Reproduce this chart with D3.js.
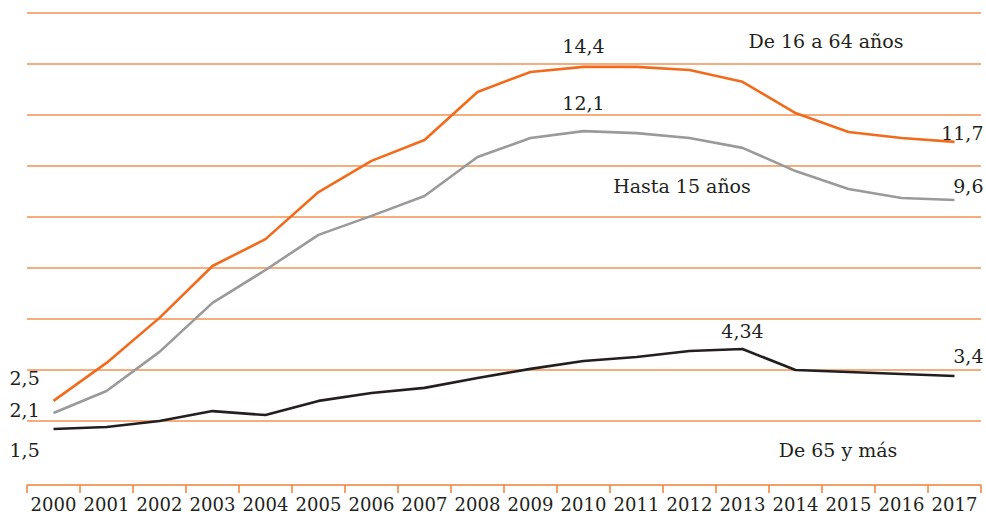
<!DOCTYPE html>
<html><head><meta charset="utf-8">
<script src="https://cdn.jsdelivr.net/npm/d3@7/dist/d3.min.js"></script>
<style>body{margin:0;background:#fff}svg{display:block}text{font-family:"DejaVu Serif",serif;fill:#231f20}</style>
</head><body><svg id="c" width="986" height="514"></svg>
<script>
const years = [2000,2001,2002,2003,2004,2005,2006,2007,2008,2009,2010,2011,2012,2013,2014,2015,2016,2017];
const de16a64 = [2.51,3.85,5.44,7.27,8.22,9.88,10.98,11.72,13.41,14.12,14.30,14.30,14.19,13.77,12.67,12.00,11.79,11.65];
const hasta15 = [2.08,2.86,4.24,5.97,7.13,8.37,9.04,9.74,11.12,11.79,12.03,11.96,11.79,11.44,10.62,9.99,9.67,9.60];
const de65 = [1.52,1.59,1.80,2.15,2.01,2.51,2.79,2.97,3.32,3.64,3.92,4.06,4.27,4.34,3.60,3.53,3.46,3.39];
const gridValues = [1.8,3.6,5.4,7.2,9.0,10.8,12.6,14.4,16.2];
const seriesNames = ["De 16 a 64 años","Hasta 15 años","De 65 y más"];
const valueLabels = [
  {t:"14,4", year:2010, v:14.30, dy:-14, a:"middle", dx:0},
  {t:"12,1", year:2010, v:12.03, dy:-21, a:"middle", dx:0},
  {t:"11,7", year:2017, v:11.65, dy:-2, a:"end", dx:29},
  {t:"9,6", year:2017, v:9.60, dy:-7, a:"end", dx:29},
  {t:"4,34", year:2013, v:4.34, dy:-11, a:"middle", dx:0},
  {t:"3,4", year:2017, v:3.39, dy:-13, a:"end", dx:29},
  {t:"2,5", year:2000, v:2.51, dy:-16, a:"start", dx:-44},
  {t:"2,1", year:2000, v:2.08, dy:4, a:"start", dx:-44},
  {t:"1,5", year:2000, v:1.52, dy:28, a:"start", dx:-44}
];

const svg = d3.select("#c");
const x = d3.scaleBand().domain(years).range([27, 981]);
const y = d3.scaleLinear().domain([0, 16.2]).range([472, 13]);
const cx = d => x(d) + x.bandwidth()/2;

// gridlines
svg.append("g").selectAll("line").data(gridValues).join("line")
  .attr("x1", 27).attr("x2", 981)
  .attr("y1", d => y(d)).attr("y2", d => y(d))
  .attr("stroke", "#f39050").attr("stroke-width", 1.4);

// x axis
const axisY = 485;
const gx = svg.append("g").attr("transform", `translate(0,${axisY})`);
gx.append("line").attr("x1", 27).attr("x2", 981).attr("stroke", "#f07f35").attr("stroke-width", 1.5);
const bounds = years.map(d => x(d)).concat([x(years[years.length-1]) + x.bandwidth()]);
gx.selectAll("line.tick").data(bounds).join("line").attr("class","tick")
  .attr("x1", d => d).attr("x2", d => d).attr("y1", 0).attr("y2", 8)
  .attr("stroke", "#f07f35").attr("stroke-width", 1.5);
gx.selectAll("text").data(years).join("text")
  .attr("x", d => cx(d)).attr("y", 26).attr("text-anchor", "middle")
  .attr("font-size", 18).text(d => d);

// lines
const line = d3.line().x((d,i) => cx(years[i])).y(d => y(d));
const series = [
  {vals: de16a64, color: "#f26b1d", w: 2.6},
  {vals: hasta15, color: "#9a9a9a", w: 2.6},
  {vals: de65, color: "#231f20", w: 2.6}
];
svg.append("g").selectAll("path").data(series).join("path")
  .attr("d", d => line(d.vals)).attr("fill", "none")
  .attr("stroke", d => d.color).attr("stroke-width", d => d.w)
  .attr("stroke-linejoin", "round");

// value labels
svg.append("g").selectAll("text").data(valueLabels).join("text")
  .attr("x", d => cx(d.year) + d.dx).attr("y", d => y(d.v) + d.dy)
  .attr("text-anchor", d => d.a).attr("font-size", 19).text(d => d.t);

// series labels
const seriesPos = [{x: 826, y: 48}, {x: 682, y: 193}, {x: 838, y: 457}];
svg.append("g").selectAll("text").data(seriesNames).join("text")
  .attr("x", (d,i) => seriesPos[i].x).attr("y", (d,i) => seriesPos[i].y)
  .attr("text-anchor", "middle").attr("font-size", 19).text(d => d);
</script></body></html>
